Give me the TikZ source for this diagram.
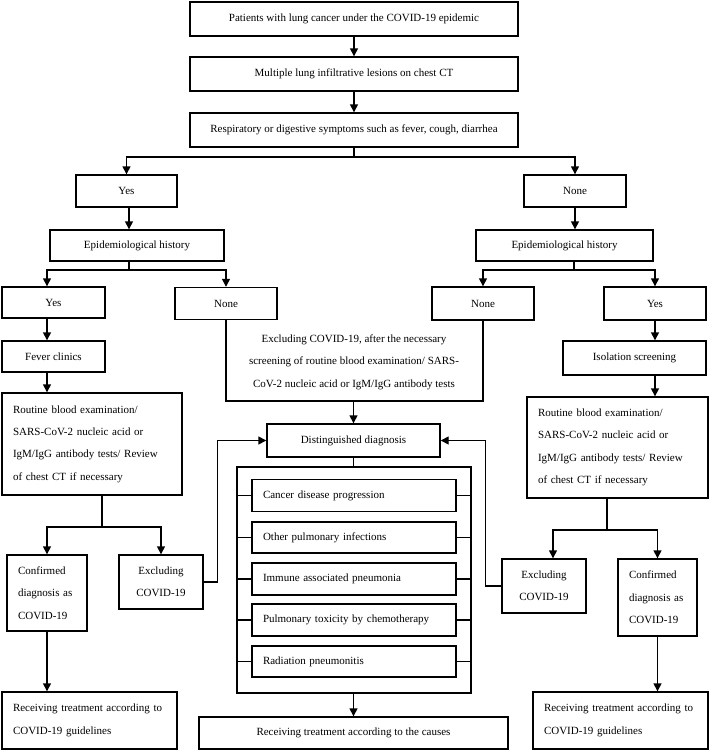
\documentclass[tikz,border=0pt]{standalone}
\usepackage{fontspec}
\setmainfont{Liberation Serif}
\usetikzlibrary{arrows.meta,calc}
\newcommand\myfont{\fontsize{11}{22.4}\selectfont}
\tikzset{
  bx/.style={draw, line width=1.4pt, inner sep=0pt, align=center, font=\myfont},
  lb/.style={bx, align=left},
  arr/.style={line width=1.4pt, -{Triangle[length=8pt,width=8pt]}},
  ln/.style={line width=1.4pt},
}
\begin{document}
\begin{tikzpicture}[x=1pt,y=-1pt]
\useasboundingbox (0,0) rectangle (709,750);
% top chain
\node[bx, minimum width=328pt, minimum height=34pt] (t1) at (354,19) {Patients with lung cancer under the COVID-19 epidemic};
\node[bx, minimum width=328pt, minimum height=34pt] (t2) at (354,74) {Multiple lung infiltrative lesions on chest CT};
\node[bx, minimum width=328pt, minimum height=34pt] (t3) at (354,130) {Respiratory or digestive symptoms such as fever, cough, diarrhea};
\node[bx, minimum width=101pt, minimum height=32pt] (yes1) at (126.5,191) {Yes};
\node[bx, minimum width=102pt, minimum height=32pt] (none1) at (575,191) {None};
\node[bx, minimum width=174pt, minimum height=31pt] (epl) at (137,245.5) {Epidemiological history};
\node[bx, minimum width=177pt, minimum height=31pt] (epr) at (564.5,245.5) {Epidemiological history};
\node[bx, minimum width=103pt, minimum height=31pt] (yes2) at (53.5,302.5) {Yes};
\node[bx, minimum width=102pt, minimum height=32pt] (nonel) at (226,303.5) {None};
\node[bx, minimum width=102pt, minimum height=33pt] (nonem) at (483,303.5) {None};
\node[bx, minimum width=102pt, minimum height=33pt] (yesr) at (655,303.5) {Yes};
\node[bx, minimum width=103pt, minimum height=31pt] (fever) at (53.5,356.5) {Fever clinics};
\node[bx, minimum width=143pt, minimum height=34pt] (iso) at (634.5,358) {Isolation screening};
\node[lb, minimum width=180pt, minimum height=102pt, text width=158pt] (rl) at (92,444)
  {Routine blood examination/\\SARS-CoV-2 nucleic acid or\\IgM/IgG antibody tests/ Review\\of chest CT if necessary};
\node[lb, minimum width=181pt, minimum height=101pt, text width=159pt] (rr) at (617.5,447.5)
  {Routine blood examination/\\SARS-CoV-2 nucleic acid or\\IgM/IgG antibody tests/ Review\\of chest CT if necessary};
\node[lb, minimum width=80pt, minimum height=76pt, text width=58pt] (confl) at (47,593)
  {Confirmed\\\makebox[57pt][s]{diagnosis as}\\COVID-19};
\node[lb, minimum width=79pt, minimum height=77pt, text width=57pt] (confr) at (657.5,597.5)
  {Confirmed\\\makebox[57pt][s]{diagnosis as}\\COVID-19};
\node[bx, minimum width=84pt, minimum height=54pt] (exl) at (161,582) {Excluding\\COVID-19};
\node[bx, minimum width=84pt, minimum height=54pt] (exr) at (544,586) {Excluding\\COVID-19};
\node[lb, minimum width=175pt, minimum height=57pt, text width=153pt] (recl) at (89.5,720.5)
  {Receiving treatment according to\\COVID-19 guidelines};
\node[lb, minimum width=175pt, minimum height=57pt, text width=153pt] (recr) at (620.5,720.5)
  {Receiving treatment according to\\COVID-19 guidelines};
% middle
\node[font=\myfont, align=center, inner sep=0pt] (midtxt) at (354,362)
  {Excluding COVID-19, after the necessary\\screening of routine blood examination/ SARS-\\CoV-2 nucleic acid or IgM/IgG antibody tests};
\node[bx, minimum width=173pt, minimum height=33pt] (dist) at (353.5,440.5) {Distinguished diagnosis};
\node[draw, line width=1.4pt, minimum width=234pt, minimum height=226pt, inner sep=0pt] (frame) at (354,580) {};
\node[lb, minimum width=204pt, minimum height=32pt, text width=182pt] (cancer) at (354,495.5) {Cancer disease progression};
\node[lb, minimum width=204pt, minimum height=31pt, text width=182pt] (other) at (354,537.5) {Other pulmonary infections};
\node[lb, minimum width=204pt, minimum height=32pt, text width=182pt] (immune) at (354,579) {Immune associated pneumonia};
\node[lb, minimum width=204pt, minimum height=32pt, text width=182pt] (pulm) at (354,620) {Pulmonary toxicity by chemotherapy};
\node[lb, minimum width=204pt, minimum height=31pt, text width=182pt] (rad) at (354,661.5) {Radiation pneumonitis};
\node[bx, minimum width=309pt, minimum height=32pt] (bottom) at (353.5,733) {Receiving treatment according to the causes};
% coordinates
\coordinate (j1) at (354,157);
\coordinate (j2) at (129,270);
\coordinate (j3) at (102,527);
\coordinate (j4) at (574,270);
\coordinate (j5) at (607,530);
\coordinate (ub) at (353.5,401);
\coordinate (cL) at (47,0);
\coordinate (cR) at (655,0);
% connectors
\draw[arr] (t1) -- (t2);
\draw[arr] (t2) -- (t3);
\draw[ln] (t3.south) -- (j1);
\draw[arr] (j1) -| (yes1.north);
\draw[arr] (j1) -| (none1.north);
\draw[arr] (yes1.south -| j2) -- (epl.north -| j2);
\draw[ln] (epl.south -| j2) -- (j2);
\draw[arr] (j2) -| (cL |- yes2.north);
\draw[arr] (j2) -| (nonel.north);
\draw[arr] (cL |- yes2.south) -- (cL |- fever.north);
\draw[arr] (cL |- fever.south) -- (cL |- rl.north);
\draw[ln] (rl.south -| j3) -- (j3);
\draw[arr] (j3) -| (confl.north);
\draw[arr] (j3) -| (exl.north);
\draw[arr] (confl.south) -- (confl.south |- recl.north);
\draw[arr] (exl.east) -- ++(14,0) |- (dist.west);
\draw[arr] (none1.south) -- (none1.south |- epr.north);
\draw[ln] (epr.south -| j4) -- (j4);
\draw[arr] (j4) -| (nonem.north);
\draw[arr] (j4) -| (cR |- yesr.north);
\draw[arr] (cR |- yesr.south) -- (cR |- iso.north);
\draw[arr] (cR |- iso.south) -- (cR |- rr.north);
\draw[ln] (rr.south -| j5) -- (j5);
\draw[arr] (j5) -| ([xshift=9pt]exr.north);
\draw[arr] (j5) -| (confr.north);
\draw[arr] (confr.south) -- (confr.south |- recr.north);
\draw[arr] (exr.west) -- ++(-16,0) |- (dist.east);
\draw[ln] (nonel.south) |- (ub) -| (nonem.south);
\draw[arr] (ub) -- (dist.north);
\draw[ln] (dist.south) -- (dist.south |- frame.north);
\foreach \s in {cancer,other,immune,pulm,rad}{
  \draw[ln] (frame.west |- \s.west) -- (\s.west);
  \draw[ln] (\s.east) -- (frame.east |- \s.east);
}
\draw[arr] (dist.south |- frame.south) -- (dist.south |- bottom.north);
\end{tikzpicture}
\end{document}
